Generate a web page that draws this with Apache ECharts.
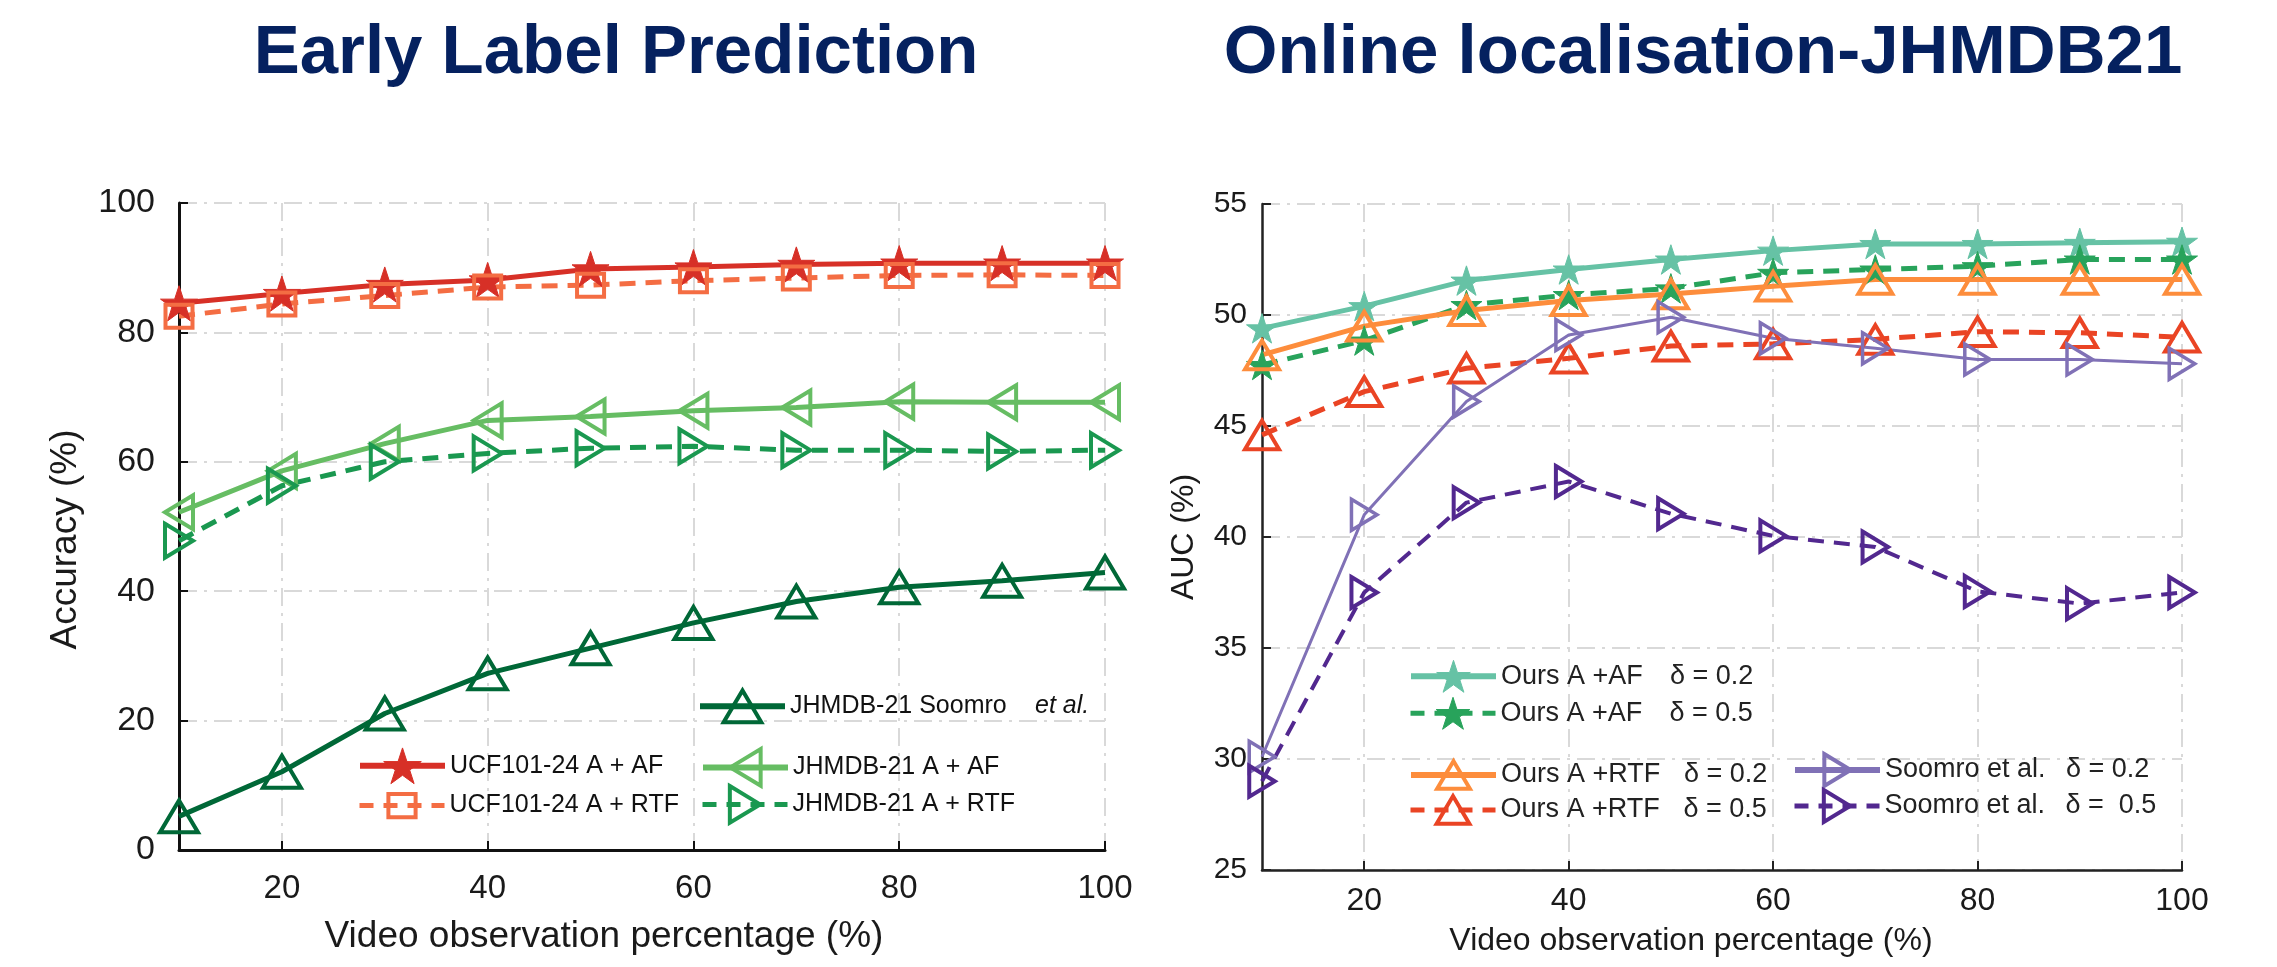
<!DOCTYPE html>
<html>
<head>
<meta charset="utf-8">
<script src="https://cdn.jsdelivr.net/npm/echarts@6/dist/echarts.min.js"></script>
<style>
html,body{margin:0;padding:0;background:#fff;}
#chart{width:2277px;height:967px;}
</style>
</head>
<body>
<div id="chart"></div>
<script>
// ---------- data ----------
const xCategories = ['10','20','30','40','50','60','70','80','90','100'];
const leftYTicks = [0, 20, 40, 60, 80, 100];
const rightYTicks = [25, 30, 35, 40, 45, 50, 55];

// Early Label Prediction (Accuracy %)
const ucfAF      = [84.5, 86.0, 87.4, 88.1, 89.8, 90.1, 90.5, 90.7, 90.7, 90.7];
const ucfRTF     = [82.5, 84.4, 85.7, 87.0, 87.3, 88.0, 88.4, 88.8, 88.9, 88.8];
const jhmdbAF    = [52.2, 58.6, 62.8, 66.4, 67.0, 67.9, 68.4, 69.3, 69.2, 69.2];
const jhmdbRTF   = [47.8, 56.3, 60.0, 61.3, 62.1, 62.4, 61.8, 61.8, 61.6, 61.8];
const jhmdbSoomro= [5.2, 12.1, 21.1, 27.3, 31.2, 35.1, 38.4, 40.6, 41.6, 42.9];

// Online localisation JHMDB21 (AUC %)
const oursAF02   = [49.4, 50.4, 51.55, 52.05, 52.5, 52.9, 53.2, 53.2, 53.25, 53.3];
const oursAF05   = [47.75, 48.85, 50.45, 50.9, 51.2, 51.9, 52.05, 52.2, 52.5, 52.5];
const oursRTF02  = [48.2, 49.5, 50.2, 50.65, 50.95, 51.3, 51.6, 51.6, 51.6, 51.6];
const oursRTF05  = [44.6, 46.55, 47.6, 48.05, 48.6, 48.7, 48.9, 49.25, 49.2, 49.0];
const soomro02   = [30.1, 41.0, 46.1, 49.1, 49.9, 48.95, 48.5, 48.0, 48.0, 47.8];
const soomro05   = [29.0, 37.5, 41.55, 42.5, 41.05, 40.05, 39.55, 37.55, 37.0, 37.5];

const titles = ['Early Label Prediction', 'Online localisation-JHMDB21'];
const xName = 'Video observation percentage (%)';
const yNames = ['Accuracy (%)', 'AUC (%)'];

// ---------- symbols (padded to a square box so legend icons keep their shape) ----------
function starPath() {
  const pts = [];
  for (let i = 0; i < 10; i++) {
    const a = (-90 + i * 36) * Math.PI / 180;
    const r = i % 2 ? 0.382 : 1;
    pts.push((100 + 100 * r * Math.cos(a)).toFixed(2) + ',' + (100 + 100 * r * Math.sin(a)).toFixed(2));
  }
  return 'path://M4.89,-4.65 M195.11,185.55 M' + pts.join(' L') + ' Z';
}
const STAR = starPath();
const TRI_LEFT = 'path://M-3,0 M31,34 M0,17 L28,0 L28,34 Z';
const TRI_RIGHT = 'path://M-3,0 M31,34 M0,0 L28,17 L0,34 Z';
const TRI_UP = 'path://M0,-3 M38,35 M0,32 L19,0 L38,32 Z';
const SQUARE = 'path://M0,-2 M27,25 M0,0 L27,0 L27,23 L0,23 Z';
const CLEAR = 'rgba(255,255,255,0)';
const FONT = '"Liberation Sans", Arial, Helvetica, sans-serif';

const C = {
  ucfAF: '#d73027', ucfRTF: '#f46d43', jhAF: '#66bd63', jhRTF: '#1a9850', jhSo: '#006837',
  af02: '#66c2a5', af05: '#28a35b', rtf02: '#fd8d3c', rtf05: '#ea4424', so02: '#8071b6', so05: '#52288f'
};

function ser(name, data, gi, o) {
  return {
    type: 'line', name: name, data: data, xAxisIndex: gi, yAxisIndex: gi,
    symbol: o.symbol, symbolSize: o.size, showAllSymbol: true,
    lineStyle: { color: o.color, width: o.lw, type: o.dash ? [16, 10] : 'solid' },
    itemStyle: { color: o.fill, borderColor: o.color, borderWidth: o.bw },
    emphasis: { disabled: true }, animation: false, z: o.z || 2
  };
}

const series = [
  ser('UCF101-24 A + AF', ucfAF, 0, {symbol: STAR, size: 37, color: C.ucfAF, fill: C.ucfAF, lw: 5, bw: 1}),
  ser('UCF101-24 A + RTF', ucfRTF, 0, {symbol: SQUARE, size: 27, color: C.ucfRTF, fill: CLEAR, lw: 5, bw: 4, dash: true}),
  ser('JHMDB-21 A + AF', jhmdbAF, 0, {symbol: TRI_LEFT, size: 34, color: C.jhAF, fill: CLEAR, lw: 5, bw: 4}),
  ser('JHMDB-21 A + RTF', jhmdbRTF, 0, {symbol: TRI_RIGHT, size: 34, color: C.jhRTF, fill: CLEAR, lw: 5, bw: 4, dash: true}),
  ser('JHMDB-21 Soomro et al.', jhmdbSoomro, 0, {symbol: TRI_UP, size: 38, color: C.jhSo, fill: CLEAR, lw: 5, bw: 4}),

  ser('Ours A +AF δ=0.2', oursAF02, 1, {symbol: STAR, size: 31, color: C.af02, fill: C.af02, lw: 5, bw: 1}),
  ser('Ours A +AF δ=0.5', oursAF05, 1, {symbol: STAR, size: 31, color: C.af05, fill: C.af05, lw: 5, bw: 1, dash: true}),
  ser('Ours A +RTF δ=0.2', oursRTF02, 1, {symbol: TRI_UP, size: 34, color: C.rtf02, fill: CLEAR, lw: 5, bw: 4}),
  ser('Ours A +RTF δ=0.5', oursRTF05, 1, {symbol: TRI_UP, size: 34, color: C.rtf05, fill: CLEAR, lw: 5, bw: 4, dash: true}),
  ser('Soomro et al. δ=0.2', soomro02, 1, {symbol: TRI_RIGHT, size: 31, color: C.so02, fill: CLEAR, lw: 3, bw: 3.5}),
  ser('Soomro et al. δ=0.5', soomro05, 1, {symbol: TRI_RIGHT, size: 31, color: C.so05, fill: CLEAR, lw: 4, bw: 4, dash: true})
];

function leg(name, left, cy, ih, color, fill, lw, dash, bw, fmt, rich, fs) {
  return {
    data: [name], left: left, top: cy - ih / 2, orient: 'vertical',
    padding: 0, itemGap: 0, itemWidth: 85, itemHeight: ih, selectedMode: false,
    lineStyle: { color: color, width: lw, type: dash ? [14, 10] : 'solid' },
    itemStyle: { color: fill, borderColor: color, borderWidth: bw },
    formatter: function () { return fmt; },
    textStyle: { fontFamily: FONT, fontSize: fs, color: '#111', rich: rich }
  };
}
const richL = {
  a: { fontFamily: FONT, fontSize: 25, color: '#111', width: 245 },
  i: { fontFamily: FONT, fontSize: 25, color: '#111', fontStyle: 'italic' },
  p: { fontFamily: FONT, fontSize: 25, color: '#111' }
};
const richAF = { a: { fontFamily: FONT, fontSize: 27, color: '#222', width: 169 }, b: { fontFamily: FONT, fontSize: 27, color: '#222' } };
const richRTF = { a: { fontFamily: FONT, fontSize: 27, color: '#222', width: 183 }, b: { fontFamily: FONT, fontSize: 27, color: '#222' } };
const richSo = { a: { fontFamily: FONT, fontSize: 27, color: '#222', width: 181 }, b: { fontFamily: FONT, fontSize: 27, color: '#222' } };

const legends = [
  leg('JHMDB-21 Soomro et al.', 697, 709, 47, C.jhSo, CLEAR, 6, false, 4, '{a|JHMDB-21 Soomro}{i|et al.}', richL, 25),
  leg('UCF101-24 A + AF', 357, 770, 47, C.ucfAF, C.ucfAF, 6, false, 1, '{p|UCF101-24 A + AF}', richL, 25),
  leg('UCF101-24 A + RTF', 357, 807, 34, C.ucfRTF, CLEAR, 5, true, 4, '{p|UCF101-24 A + RTF}', richL, 25),
  leg('JHMDB-21 A + AF', 700, 770, 46, C.jhAF, CLEAR, 6, false, 4, '{p|JHMDB-21 A + AF}', richL, 25),
  leg('JHMDB-21 A + RTF', 700, 807, 46, C.jhRTF, CLEAR, 5, true, 4, '{p|JHMDB-21 A + RTF}', richL, 25),

  leg('Ours A +AF δ=0.2', 1408, 680, 42, C.af02, C.af02, 6, false, 1, '{a|Ours A +AF}{b|δ = 0.2}', richAF, 27),
  leg('Ours A +AF δ=0.5', 1408, 717, 42, C.af05, C.af05, 5, true, 1, '{a|Ours A +AF}{b|δ = 0.5}', richAF, 27),
  leg('Ours A +RTF δ=0.2', 1408, 777, 41, C.rtf02, CLEAR, 6, false, 4, '{a|Ours A +RTF}{b|δ = 0.2}', richRTF, 27),
  leg('Ours A +RTF δ=0.5', 1408, 812, 41, C.rtf05, CLEAR, 5, true, 4, '{a|Ours A +RTF}{b|δ = 0.5}', richRTF, 27),
  leg('Soomro et al. δ=0.2', 1792, 772, 40, C.so02, CLEAR, 6, false, 4, '{a|Soomro et al.}{b|δ = 0.2}', richSo, 27),
  leg('Soomro et al. δ=0.5', 1792, 808, 40, C.so05, CLEAR, 5, true, 4, '{a|Soomro et al.}{b|δ =  0.5}', richSo, 27)
];

const gridDash = { color: '#d9d9d9', width: 2, type: [18, 7, 3, 7] };
const oddIdx = function (i) { return i % 2 === 1; };

function xAxis(gi, fs, margin, nameGap, nfs, padR, axisColor, aw) {
  return {
    type: 'category', gridIndex: gi, data: xCategories, boundaryGap: false,
    axisLine: { lineStyle: { color: axisColor, width: aw } },
    axisTick: { inside: true, length: 9, interval: oddIdx, lineStyle: { color: axisColor, width: 2 } },
    axisLabel: { interval: oddIdx, fontFamily: FONT, fontSize: fs, color: '#1a1a1a', margin: margin },
    splitLine: { show: true, interval: oddIdx, lineStyle: gridDash },
    name: xName, nameLocation: 'middle', nameGap: nameGap,
    nameTextStyle: { fontFamily: FONT, fontSize: nfs, color: '#1a1a1a', padding: [0, padR, 0, 0] }
  };
}
function yAxis(gi, min, max, interval, fs, margin, name, nameGap, nfs, pad, axisColor, aw) {
  return {
    type: 'value', gridIndex: gi, min: min, max: max, interval: interval,
    axisLine: { show: true, lineStyle: { color: axisColor, width: aw } },
    axisTick: { show: true, inside: true, length: 9, lineStyle: { color: axisColor, width: 2 } },
    axisLabel: { fontFamily: FONT, fontSize: fs, color: '#1a1a1a', margin: margin },
    splitLine: { show: true, lineStyle: gridDash },
    name: name, nameLocation: 'middle', nameGap: nameGap, nameRotate: 90,
    nameTextStyle: { fontFamily: FONT, fontSize: nfs, color: '#1a1a1a', padding: pad }
  };
}

const option = {
  backgroundColor: '#fff',
  animation: false,
  title: [
    { text: titles[0], left: 616, top: 19, textAlign: 'center', textVerticalAlign: 'top', padding: 0,
      textStyle: { fontFamily: FONT, fontSize: 69, fontWeight: 'bold', color: '#05215f' } },
    { text: titles[1], left: 1703, top: 19, textAlign: 'center', textVerticalAlign: 'top', padding: 0,
      textStyle: { fontFamily: FONT, fontSize: 69, fontWeight: 'bold', color: '#05215f' } }
  ],
  grid: [
    { left: 179, top: 203, width: 926, height: 647, containLabel: false },
    { left: 1262, top: 204, width: 920, height: 666, containLabel: false }
  ],
  xAxis: [
    xAxis(0, 33, 22, 68, 37, 76, '#111', 3),
    xAxis(1, 32, 15, 55, 32, 62, '#222', 2.5)
  ],
  yAxis: [
    yAxis(0, leftYTicks[0], leftYTicks[leftYTicks.length - 1], 20, 34, 24, yNames[0], 95, 37, [0, 26, 0, 0], '#111', 3),
    yAxis(1, rightYTicks[0], rightYTicks[rightYTicks.length - 1], 5, 30, 15, yNames[1], 62, 32, [0, 0, 0, 0], '#222', 2.5)
  ],
  legend: legends,
  series: series
};

const chart = echarts.init(document.getElementById('chart'), null, { renderer: 'canvas' });
chart.setOption(option);
</script>
</body>
</html>
